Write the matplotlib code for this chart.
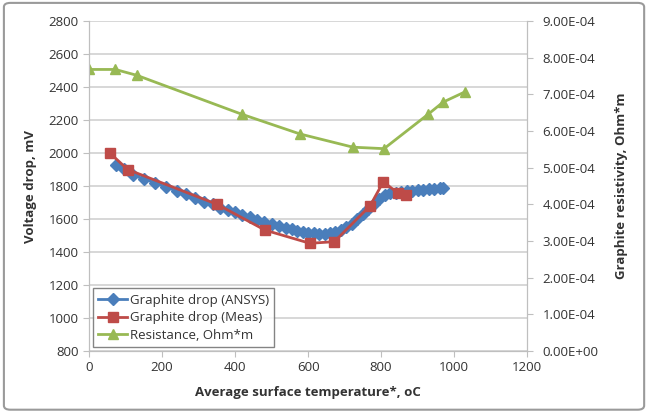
import matplotlib.pyplot as plt
from matplotlib.patches import FancyBboxPatch
from matplotlib.ticker import FormatStrFormatter

# Graphite drop (ANSYS)
ansys_t = [75, 95, 120, 150, 180, 210, 240, 265, 290, 315, 340, 360, 380, 400,
           420, 440, 460, 480, 500, 520, 540, 555, 570, 585, 600, 615, 630, 645,
           660, 675, 690, 705, 720, 735, 750, 765, 780, 795, 810, 825, 840, 855,
           870, 885, 900, 915, 930, 945, 960, 970]
ansys_v = [1925, 1905, 1865, 1845, 1820, 1795, 1770, 1750, 1725, 1705, 1690, 1670,
           1655, 1640, 1625, 1610, 1595, 1580, 1568, 1556, 1545, 1537, 1530, 1524,
           1518, 1514, 1512, 1512, 1515, 1522, 1532, 1550, 1572, 1600, 1630, 1660,
           1690, 1722, 1745, 1755, 1760, 1764, 1768, 1772, 1776, 1779, 1782, 1784,
           1786, 1787]

# Graphite drop (Meas)
meas_t = [57, 106, 350, 482, 605, 672, 770, 806, 847, 868]
meas_v = [2000, 1900, 1690, 1533, 1453, 1463, 1681, 1826, 1756, 1745]

# Resistance, Ohm*m
res_t = [0, 72, 131, 418, 578, 723, 808, 929, 970, 1030]
res_r = [7.68e-4, 7.68e-4, 7.52e-4, 6.46e-4, 5.92e-4, 5.56e-4, 5.52e-4,
         6.46e-4, 6.79e-4, 7.07e-4]

blue = "#4A7EBB"
red = "#BE4B48"
green = "#98B954"
grid_c = "#D4D4D4"
txt_c = "#333333"

plt.rcParams["font.family"] = ["Open Sans", "DejaVu Sans"]

fig = plt.figure(figsize=(6.5, 4.13), dpi=100)
ax = fig.add_axes([0.137, 0.150, 0.674, 0.799])
ax2 = ax.twinx()

l1, = ax.plot(ansys_t, ansys_v, color=blue, linewidth=2, marker="D",
              markersize=6, label="Graphite drop (ANSYS)")
l2, = ax.plot(meas_t, meas_v, color=red, linewidth=2, marker="s",
              markersize=7, label="Graphite drop (Meas)")
l3, = ax2.plot(res_t, res_r, color=green, linewidth=2, marker="^",
               markersize=7, label="Resistance, Ohm*m")

ax.set_xlim(0, 1200)
ax.set_ylim(800, 2800)
ax.set_xticks(range(0, 1201, 200))
ax.set_yticks(range(800, 2801, 200))
ax2.set_ylim(0, 9e-4)
ax2.set_yticks([i * 1e-4 for i in range(10)])
ax2.yaxis.set_major_formatter(FormatStrFormatter("%.2E"))

ax.grid(axis="y", color=grid_c, linewidth=1.3)
ax.set_axisbelow(True)

for a in (ax, ax2):
    for s in a.spines.values():
        s.set_color("#BFBFBF")
    a.spines["top"].set_visible(False)
    a.tick_params(colors="#BFBFBF", labelcolor=txt_c, labelsize=9.5, length=4)
ax2.tick_params(pad=7)

ax.set_xlabel("Average surface temperature*, oC", fontsize=9.5,
              fontweight="bold", color=txt_c, labelpad=8)
ax.set_ylabel("Voltage drop, mV", fontsize=9.5, fontweight="bold",
              color=txt_c, labelpad=8)
ax2.set_ylabel("Graphite resistivity, Ohm*m", fontsize=9.5, fontweight="bold",
               color=txt_c, labelpad=12)

leg = ax2.legend(handles=[l1, l2, l3], loc="lower left", fontsize=9.5,
                 frameon=True, fancybox=False, borderaxespad=0.3,
                 handlelength=2.2, handletextpad=0.2, labelspacing=0.35,
                 borderpad=0.4)
leg.get_frame().set_edgecolor("#666666")
leg.get_frame().set_linewidth(1.0)
for t in leg.get_texts():
    t.set_color(txt_c)

border = FancyBboxPatch((0.006, 0.008), 0.985, 0.985,
                        boxstyle="round,pad=0,rounding_size=0.01",
                        transform=fig.transFigure, fill=False,
                        edgecolor="#9A9A9A", linewidth=1.5)
fig.patches.append(border)

fig.savefig("out.png", dpi=100)
